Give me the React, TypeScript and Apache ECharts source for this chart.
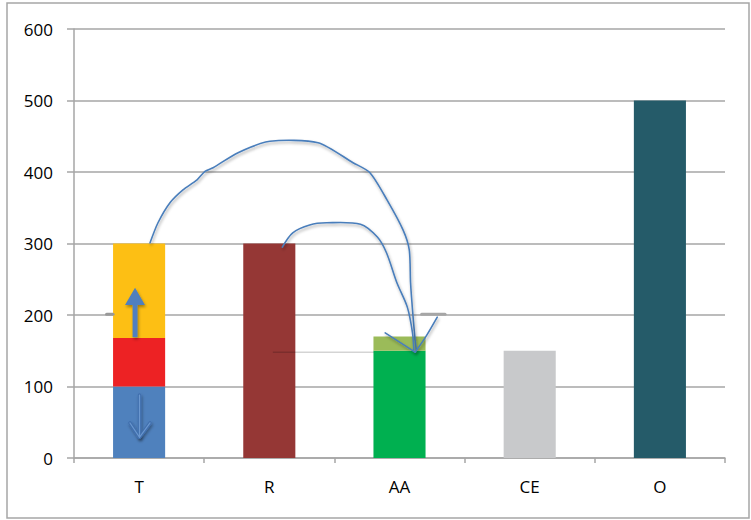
import React, { useEffect, useRef } from 'react';
import * as echarts from 'echarts';

const categories = ['T', 'R', 'AA', 'CE', 'O'];
const baseValues = [100, 300, 150, 150, 500];
const midValues: (number | string)[] = [68, '-', 20, '-', '-'];
const topValues: (number | string)[] = [132, '-', '-', '-', '-'];
const yTicks = { min: 0, max: 600, interval: 100 };

const baseColors = ['#4f81bd', '#953735', '#00b050', '#c8c9cb', '#255b69'];
const midColors = ['#ed2224', '', '#9bbb59', '', ''];
const topColors = ['#fdbf14', '', '', '', ''];

// hand-drawn annotations, in data units (x = category index, y = value)
const bigArc = [[0.084, 301], [0.145, 329], [0.237, 357], [0.337, 375], [0.445, 389], [0.506, 401], [0.568, 406], [0.76, 427], [1.005, 443], [1.374, 441], [1.643, 413], [1.773, 399], [1.904, 361], [2.027, 319], [2.075, 291], [2.085, 245], [2.10, 207], [2.12, 165], [2.13, 151]];
const smallArc = [[1.10, 295], [1.18, 315], [1.31, 326], [1.44, 329], [1.70, 327], [1.83, 309], [1.90, 287], [1.98, 245], [2.06, 211], [2.10, 175], [2.11, 151]];
const headLeft = [[1.89, 175], [2.12, 148]];
const headRight = [[2.29, 197], [2.20, 169], [2.12, 148]];
const upArrow = [[-0.05, 169], [-0.05, 214], [-0.108, 214], [-0.031, 238], [0.045, 214], [-0.012, 214], [-0.012, 169]];
const downArrowA = [[0.003, 88], [0.003, 29], [-0.07, 49]];
const downArrowB = [[0.003, 29], [0.084, 49]];
const stray145 = [[1.03, 148], [1.80, 148]];
const stub200a = [[-0.25, 201], [-0.2, 201]];
const stub200b = [[2.17, 201], [2.35, 201]];

const FONT = '"Open Sans", "Noto Sans", sans-serif';

export default function App() {
  const ref = useRef<HTMLDivElement>(null);
  useEffect(() => {
    const chart = echarts.init(ref.current!, null, { renderer: 'svg' });
    const shadow = { shadowBlur: 3, shadowColor: 'rgba(0,0,0,0.35)', shadowOffsetX: 1, shadowOffsetY: 2 };
    const option: any = {
      animation: false,
      backgroundColor: '#ffffff',
      grid: { left: 74, right: 26, top: 29, bottom: 62 },
      xAxis: [
        {
          type: 'category',
          data: categories,
          axisLine: { lineStyle: { color: '#a6a6a6', width: 1.5 } },
          axisTick: { show: true, alignWithLabel: false, length: 5, lineStyle: { color: '#a6a6a6', width: 1.5 } },
          axisLabel: { color: '#000', fontSize: 17, fontFamily: FONT, margin: 20 },
        },
        { type: 'value', min: -0.5, max: 4.5, show: false },
      ],
      yAxis: {
        type: 'value',
        min: yTicks.min,
        max: yTicks.max,
        interval: yTicks.interval,
        axisLine: { show: true, onZero: false, lineStyle: { color: '#a6a6a6', width: 1.5 } },
        axisTick: { show: true, length: 7, lineStyle: { color: '#a6a6a6', width: 1.5 } },
        splitLine: { lineStyle: { color: '#a6a6a6', width: 1.5 } },
        axisLabel: { color: '#000', fontSize: 17, fontFamily: FONT, margin: 21 },
      },
      series: [
        {
          type: 'bar', stack: 't', barWidth: '40%',
          data: baseValues.map((v, i) => ({ value: v, itemStyle: { color: baseColors[i] } })),
        },
        {
          type: 'bar', stack: 't', barWidth: '40%',
          data: midValues.map((v, i) => ({ value: v, itemStyle: { color: midColors[i] || '#000' } })),
        },
        {
          type: 'bar', stack: 't', barWidth: '40%',
          data: topValues.map((v, i) => ({ value: v, itemStyle: { color: topColors[i] || '#000' } })),
        },
        {
          type: 'custom',
          xAxisIndex: 1,
          yAxisIndex: 0,
          silent: true,
          z: 10,
          data: [[0, 0]],
          renderItem: (params: any, api: any) => {
            const pts = (arr: number[][]) => arr.map((p) => api.coord(p));
            const line = (arr: number[][], style: any, smooth = 0) => ({
              type: 'polyline',
              shape: { points: pts(arr), smooth },
              style: { fill: null, lineCap: 'round', lineJoin: 'round', ...style },
            });
            const pen = { stroke: '#4a7ebb', lineWidth: 1.6, ...shadow };
            return {
              type: 'group',
              children: [
                line(stray145, { stroke: 'rgba(0,0,0,0.25)', lineWidth: 1 }),
                line(stub200a, { stroke: '#999999', lineWidth: 3 }),
                line(stub200b, { stroke: '#a6a6a6', lineWidth: 3 }),
                line(bigArc, pen, 0.25),
                line(smallArc, pen, 0.3),
                line(headLeft, pen),
                line(headRight, pen, 0.3),
                {
                  type: 'polygon',
                  shape: { points: pts(upArrow) },
                  style: { fill: '#4f7fbf', ...shadow },
                },
                line(downArrowA, { stroke: '#416fae', lineWidth: 3.5, ...shadow }),
                line(downArrowB, { stroke: '#416fae', lineWidth: 3.5, ...shadow }),
                line(downArrowA, { stroke: '#6b97cf', lineWidth: 1.2 }),
                line(downArrowB, { stroke: '#6b97cf', lineWidth: 1.2 }),
              ],
            };
          },
        },
      ],
      graphic: [
        {
          type: 'rect',
          shape: { x: 7, y: 3, width: 742, height: 515 },
          style: { fill: 'none', stroke: '#a6a6a6', lineWidth: 1.5 },
          silent: true,
        },
      ],
    };
    chart.setOption(option);
    return () => chart.dispose();
  }, []);
  return (
    <div
      ref={ref}
      style={{ position: 'fixed', left: 0, top: 0, width: 751, height: 520, background: '#fff' }}
    />
  );
}
